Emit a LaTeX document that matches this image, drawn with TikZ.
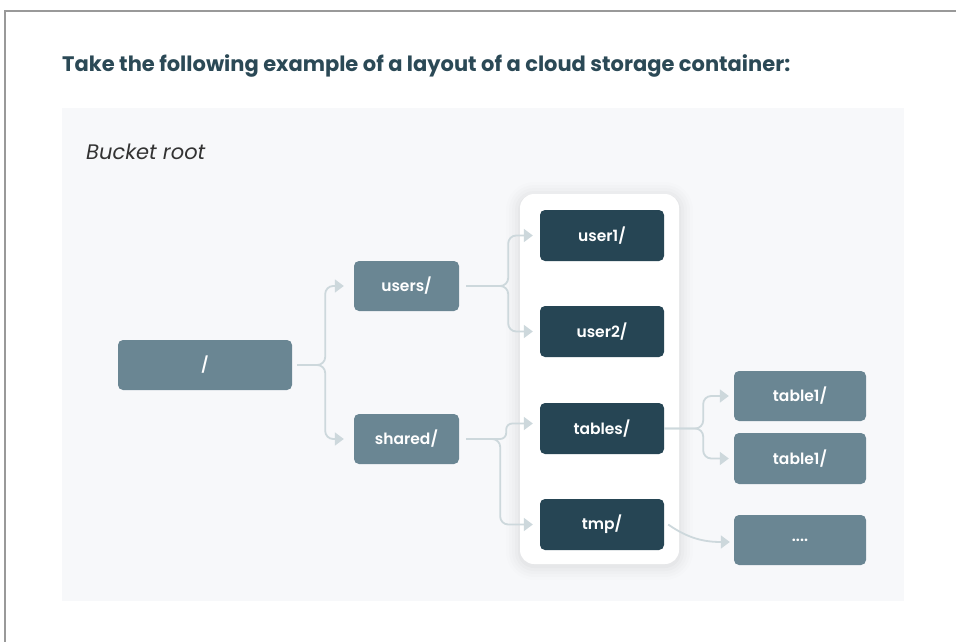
\documentclass[tikz,border=0pt]{standalone}
\usepackage{fontspec}
\setmainfont{Poppins}
\newfontfamily\boxfont{Poppins SemiBold}
\usetikzlibrary{arrows.meta}

\definecolor{titlecolor}{HTML}{2B4956}
\definecolor{panelcolor}{HTML}{F7F8FA}
\definecolor{slatecolor}{HTML}{6A8693}
\definecolor{darkcolor}{HTML}{264554}
\definecolor{linkcolor}{HTML}{CDD8DC}

\begin{document}
\begin{tikzpicture}[x=1pt, y=-1pt,
		box/.style={rounded corners=5pt, fill=slatecolor, text=white, inner sep=0pt,
			minimum width=105pt, minimum height=50pt, font=\boxfont\fontsize{15.5}{18}\selectfont},
		darkbox/.style={box, fill=darkcolor, minimum width=124pt, minimum height=51pt},
		link/.style={linkcolor, line width=1.8pt, rounded corners=8pt,
			-{Triangle[length=9pt, width=13pt]}}
		]
		
		\useasboundingbox (0,0) rectangle (956,642);
		
		% frame and background
		\draw[gray!80, line width=1.2pt] (956,11) -- (5,11) -- (5,642);
		\fill[panelcolor] (62,108) rectangle (904,601);
		\node[anchor=base west, inner sep=0pt, text=titlecolor, font=\bfseries\fontsize{21}{25}\selectfont]
			(title) at (62,71) {Take the following example of a layout of a cloud storage container:};
		\node[anchor=base west, inner sep=0pt, text=black!80, font=\itshape\fontsize{21}{25}\selectfont]
			(bucket) at (86,159) {Bucket root};
		
		% white column with soft shadow
		\foreach \s/\o in {14/0.008, 11/0.01, 8/0.012, 5/0.015, 2/0.02}
			\fill[black, opacity=\o, rounded corners=14pt+\s pt] (520-\s,194-\s+2) rectangle (679+\s,564+\s+2);
		\fill[white, rounded corners=14pt] (520,194) rectangle (679,564);
		
		% folders
		\node[box, minimum width=174pt] (root) at (205,365) {/};
		\node[box] (users) at (406.5,286) {users/};
		\node[box] (shared) at (406.5,439) {shared/};
		
		\node[darkbox] (user1) at (602,235.5) {user1/};
		\node[darkbox] (user2) at (602,331.5) {user2/};
		\node[darkbox] (tables) at (602,428.5) {tables/};
		\node[darkbox] (tmp) at (602,524.5) {tmp/};
		
		\node[box, minimum width=132pt] (tableA) at (800,396) {table1/};
		\node[box, minimum width=132pt, minimum height=51pt] (tableB) at (800,458.5) {table1/};
		\node[box, minimum width=132pt] (more) at (800,540) {....};
		
		% connectors
		\draw[link] ([xshift=5pt]root.east) -- ++(28,0) |- ([xshift=-10pt]users.west);
		\draw[link] ([xshift=5pt]root.east) -- ++(28,0) |- ([xshift=-10pt]shared.west);
		
		\draw[link] ([xshift=7pt]users.east) -- ++(42,0) |- ([xshift=-7pt]user1.west);
		\draw[link] ([xshift=7pt]users.east) -- ++(42,0) |- ([xshift=-7pt]user2.west);
		
		\draw[link, rounded corners=6pt] ([xshift=7pt]shared.east) -- ++(40,0) |- ([xshift=-7pt, yshift=5pt]tables.west);
		\draw[link] ([xshift=7pt]shared.east) -- ++(34,0) |- ([xshift=-7pt]tmp.west);
		
		\draw[link] (tables.east) -- ++(39,0) |- ([xshift=-5pt]tableA.west);
		\draw[link] (tables.east) -- ++(39,0) |- ([xshift=-5pt]tableB.west);
		
		\draw[link] ([xshift=4pt]tmp.east) to[out=-35, in=180] ([xshift=-4pt, yshift=-2pt]more.west);
		
	\end{tikzpicture}
\end{document}
